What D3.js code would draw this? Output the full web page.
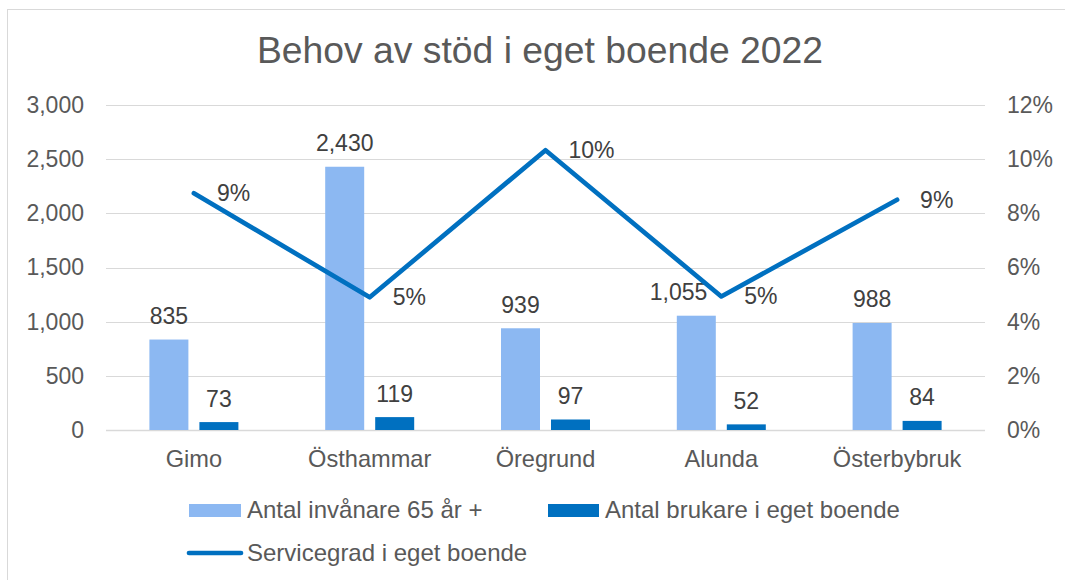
<!DOCTYPE html>
<html><head><meta charset="utf-8">
<script src="https://cdn.jsdelivr.net/npm/d3@7"></script>
<style>body{margin:0;background:#fff}svg{display:block;font-family:"Liberation Sans",Arial,sans-serif}</style>
</head><body><svg id="c" width="1065" height="580"></svg>
<script>
const categories = ["Gimo","Östhammar","Öregrund","Alunda","Österbybruk"];
const invanare = [835, 2430, 939, 1055, 988];
const brukare = [73, 119, 97, 52, 84];
const servicegrad = [0.0874, 0.0490, 0.1033, 0.0493, 0.0850];
const servicegradLabels = ["9%","5%","10%","5%","9%"];
const leftTicks = [0,500,1000,1500,2000,2500,3000];
const rightTicks = [0,0.02,0.04,0.06,0.08,0.10,0.12];

const svg = d3.select("#c");
const m={left:106,right:985,top:105,bottom:430};
svg.append("rect").attr("x",7.5).attr("y",9.5).attr("width",1100).attr("height",600).attr("fill","#fff").attr("stroke","#d9d9d9");

const x = d3.scaleBand().domain(categories).range([m.left,m.right]);
const yL = d3.scaleLinear().domain([0,3000]).range([m.bottom,m.top]);
const yR = d3.scaleLinear().domain([0,0.12]).range([m.bottom,m.top]);
const txt="#595959", lab="#404040", light="#8cb8f2", dark="#0070c0";

svg.append("text").attr("x",540).attr("y",63).attr("text-anchor","middle").attr("font-size",37.3).attr("fill",txt).text("Behov av stöd i eget boende 2022");

svg.append("g").selectAll("line").data(leftTicks).join("line")
 .attr("x1",m.left).attr("x2",m.right).attr("y1",d=>Math.round(yL(d))+0.5).attr("y2",d=>Math.round(yL(d))+0.5)
 .attr("stroke","#d9d9d9").attr("stroke-width",d=>d===0?1.5:1.2);

const fmt = d3.format(",");
const gl = svg.append("g").attr("transform",`translate(84,0)`)
 .call(d3.axisLeft(yL).tickValues(leftTicks).tickFormat(fmt).tickSize(0).tickPadding(0));
gl.select(".domain").remove();
gl.selectAll("text").attr("font-size",23).attr("fill",txt).attr("font-family","Liberation Sans, Arial, sans-serif");
const gr = svg.append("g").attr("transform",`translate(1007,0)`)
 .call(d3.axisRight(yR).tickValues(rightTicks).tickFormat(d3.format(".0%")).tickSize(0).tickPadding(0));
gr.select(".domain").remove();
gr.selectAll("text").attr("font-size",23).attr("fill",txt).attr("font-family","Liberation Sans, Arial, sans-serif");
const gb = svg.append("g").attr("transform",`translate(0,${m.bottom})`)
 .call(d3.axisBottom(x).tickSize(0).tickPadding(0));
gb.select(".domain").remove();
gb.selectAll("text").attr("font-size",23.6).attr("fill",txt).attr("dy",null).attr("y",37).attr("font-family","Liberation Sans, Arial, sans-serif");

const c = d=>x(d)+x.bandwidth()/2;
const bw=39, gap=5.5;
svg.append("g").selectAll("rect").data(categories).join("rect")
 .attr("x",(d)=>c(d)-gap-bw).attr("width",bw).attr("y",(d,i)=>yL(invanare[i])).attr("height",(d,i)=>yL(0)-yL(invanare[i])).attr("fill",light);
svg.append("g").selectAll("rect").data(categories).join("rect")
 .attr("x",(d)=>c(d)+gap).attr("width",bw).attr("y",(d,i)=>yL(brukare[i])).attr("height",(d,i)=>yL(0)-yL(brukare[i])).attr("fill",dark);

svg.append("g").selectAll("text").data(categories).join("text")
 .attr("x",d=>c(d)-gap-bw/2).attr("y",(d,i)=>yL(invanare[i])-15.5).attr("text-anchor","middle").attr("font-size",23).attr("fill",lab).text((d,i)=>fmt(invanare[i]))
 .each(function(d,i){
   // avoid overlapping the line vertex: shift label left
   const bb=this.getBBox(); const vx=c(d), vy=yR(servicegrad[i]);
   if (bb.x+bb.width > vx-14 && vy > bb.y-6 && vy < bb.y+bb.height+10) {
     d3.select(this).attr("text-anchor","end").attr("x", vx-14);
   }
 });
svg.append("g").selectAll("text").data(categories).join("text")
 .attr("x",d=>c(d)+gap+bw/2).attr("y",(d,i)=>yL(brukare[i])-15.5).attr("text-anchor","middle").attr("font-size",23).attr("fill",lab).text((d,i)=>fmt(brukare[i]));

const line = d3.line().x((d,i)=>c(categories[i])).y(d=>yR(d));
svg.append("path").datum(servicegrad).attr("d",line).attr("fill","none").attr("stroke",dark).attr("stroke-width",4.7).attr("stroke-linejoin","round").attr("stroke-linecap","round");
svg.append("g").selectAll("text").data(servicegrad).join("text")
 .attr("x",(d,i)=>c(categories[i])+23).attr("y",d=>yR(d)+8).attr("font-size",23).attr("fill",lab).text((d,i)=>servicegradLabels[i]);

const lg = svg.append("g");
lg.append("rect").attr("x",189).attr("y",504).attr("width",52).attr("height",13).attr("fill",light);
lg.append("text").attr("x",247).attr("y",518).attr("font-size",24).attr("fill",txt).text("Antal invånare 65 år +");
lg.append("rect").attr("x",548).attr("y",504).attr("width",51).attr("height",13).attr("fill",dark);
lg.append("text").attr("x",605).attr("y",518).attr("font-size",24).attr("fill",txt).text("Antal brukare i eget boende");
lg.append("line").attr("x1",189).attr("x2",241).attr("y1",553).attr("y2",553).attr("stroke",dark).attr("stroke-width",4.7).attr("stroke-linecap","round");
lg.append("text").attr("x",247).attr("y",561).attr("font-size",24).attr("fill",txt).text("Servicegrad i eget boende");
</script></body></html>
